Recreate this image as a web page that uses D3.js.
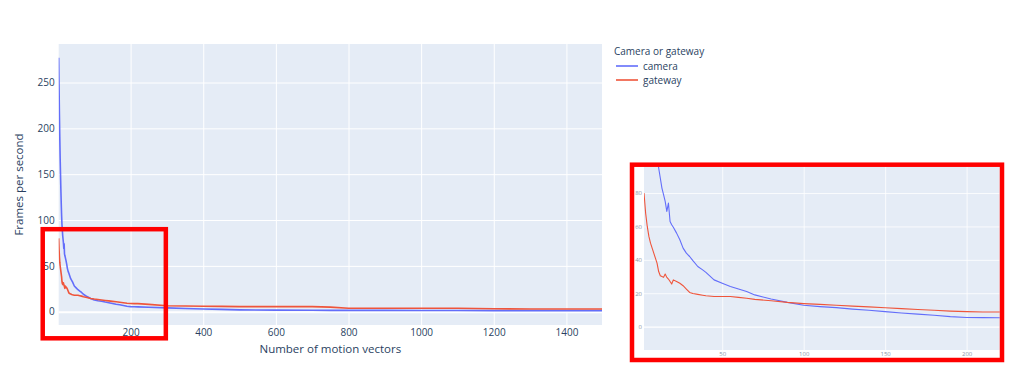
<!DOCTYPE html>
<html>
<head>
<meta charset="utf-8">
<script src="https://cdn.jsdelivr.net/npm/d3@7"></script>
<style>
  body { margin: 0; background: #fff; }
  svg { display: block; font-family: "Open Sans", sans-serif; }
</style>
</head>
<body>
<div id="chart"></div>
<script>
// motion vectors (x) and frames per second for each device
const motionVectors = [2, 3, 4, 5, 6, 7, 8, 9, 10, 11, 12, 13, 14, 15, 16, 17, 18, 19, 20, 22, 24, 26, 28, 30, 32, 35, 38, 40, 45, 50, 55, 60, 65, 70, 80, 90, 100, 110, 120, 130, 140, 150, 160, 170, 180, 190, 200, 210, 220, 250, 300, 350, 400, 450, 500, 600, 700, 750, 800, 900, 1000, 1100, 1200, 1300, 1400, 1500];
const cameraFps = [277, 245, 215, 190, 168, 150, 133, 118, 105, 95, 89, 83, 79, 75, 69, 74, 63, 61, 59.5, 56, 52, 47, 44, 42, 39.5, 36, 34, 32.5, 28, 26, 24, 22.5, 21, 19, 16.5, 14.5, 12.8, 12, 11.4, 10.5, 9.8, 9, 8.2, 7.5, 6.8, 6, 5.5, 5.4, 5.3, 4.8, 4.2, 3.5, 3, 2.5, 2, 1.7, 1.6, 1.5, 1.4, 1.4, 1.3, 1.3, 1.2, 1.2, 1.2, 1.2];
const gatewayFps = [80, 68, 60, 54, 50, 47, 44, 41, 38, 33, 30.5, 30, 29.5, 31.5, 29.5, 28.5, 27, 25.5, 28, 27, 26, 24.5, 22.5, 20.5, 19.8, 19.3, 18.8, 18.5, 18, 18, 18, 17.5, 17, 16.3, 15.5, 14.5, 13.8, 13.3, 12.8, 12.3, 11.8, 11.3, 10.8, 10.3, 9.8, 9.3, 9, 8.8, 8.8, 8, 6.5, 6.2, 6, 5.8, 5.5, 5.5, 5.5, 5, 3.8, 3.7, 3.7, 3.7, 3.2, 3, 3, 3];

const seriesNames = ["camera", "gateway"];
const seriesColors = ["#636efa", "#EF553B"];
const legendTitle = "Camera or gateway";

const mainXTicks = [200, 400, 600, 800, 1000, 1200, 1400];
const mainYTicks = [0, 50, 100, 150, 200, 250];
const insetXTicks = [50, 100, 150, 200];
const insetYTicks = [0, 20, 40, 60, 80];

// highlighted region drawn on the main chart (data units)
const zoomBoxX = [-42, 297];
const zoomBoxY = [-29, 90];

const width = 1024, height = 384;
const fontColor = "#2a3f5f";
const plotBg = "#E5ECF6";
const fmt = d3.format("d");

const svg = d3.select("#chart").append("svg")
    .attr("width", width)
    .attr("height", height);

svg.append("rect").attr("width", width).attr("height", height).attr("fill", "#fff");

const rows = motionVectors.map((x, i) => ({ x, camera: cameraFps[i], gateway: gatewayFps[i] }));

// ---------- main chart ----------
const main = { left: 58.7, right: 602, top: 44, bottom: 325 };
const x = d3.scaleLinear().domain([2, 1498]).range([main.left, main.right]);
const y = d3.scaleLinear().domain([-14.5, 292]).range([main.bottom, main.top]);

svg.append("rect")
    .attr("x", main.left).attr("y", main.top)
    .attr("width", main.right - main.left).attr("height", main.bottom - main.top)
    .attr("fill", plotBg);

// grid
svg.append("g")
    .attr("transform", `translate(0, ${main.bottom})`)
    .call(d3.axisBottom(x).tickValues(mainXTicks).tickSize(-(main.bottom - main.top)).tickFormat(""))
    .call(g => g.select(".domain").remove())
    .call(g => g.selectAll("line").attr("stroke", "#fff").attr("stroke-width", 1));

svg.append("g")
    .attr("transform", `translate(${main.left}, 0)`)
    .call(d3.axisLeft(y).tickValues(mainYTicks).tickSize(-(main.right - main.left)).tickFormat(""))
    .call(g => g.select(".domain").remove())
    .call(g => g.selectAll("line").attr("stroke", "#fff").attr("stroke-width", d => d === 0 ? 2 : 1));

// tick labels
svg.append("g")
    .attr("transform", `translate(0, ${main.bottom})`)
    .call(d3.axisBottom(x).tickValues(mainXTicks).tickFormat(fmt).tickSize(0).tickPadding(4))
    .call(g => g.select(".domain").remove())
    .call(g => g.selectAll("text").attr("fill", fontColor).style("font-size", "10px").style("font-family", "Open Sans"));

svg.append("g")
    .attr("transform", `translate(${main.left}, 0)`)
    .call(d3.axisLeft(y).tickValues(mainYTicks).tickFormat(fmt).tickSize(0).tickPadding(4))
    .call(g => g.select(".domain").remove())
    .call(g => g.selectAll("text").attr("fill", fontColor).style("font-size", "10px").style("font-family", "Open Sans"));

svg.append("clipPath").attr("id", "main-clip")
    .append("rect")
    .attr("x", main.left).attr("y", main.top)
    .attr("width", main.right - main.left).attr("height", main.bottom - main.top);

seriesNames.forEach((name, i) => {
    const line = d3.line().x(d => x(d.x)).y(d => y(d[name]));
    svg.append("path")
        .datum(rows)
        .attr("clip-path", "url(#main-clip)")
        .attr("fill", "none")
        .attr("stroke", seriesColors[i])
        .attr("stroke-width", 1.6)
        .attr("stroke-linejoin", "round")
        .attr("d", line);
});

// axis titles
svg.append("text")
    .attr("x", (main.left + main.right) / 2)
    .attr("y", 353)
    .attr("text-anchor", "middle")
    .attr("fill", fontColor)
    .style("font-size", "11.5px")
    .text("Number of motion vectors");

svg.append("text")
    .attr("transform", `translate(23, ${(main.top + main.bottom) / 2}) rotate(-90)`)
    .attr("text-anchor", "middle")
    .attr("fill", fontColor)
    .style("font-size", "11.5px")
    .text("Frames per second");

// legend
const legend = svg.append("g").attr("transform", "translate(614, 55)");
legend.append("text")
    .attr("fill", fontColor)
    .style("font-size", "10px")
    .text(legendTitle);
seriesNames.forEach((name, i) => {
    const row = legend.append("g").attr("transform", `translate(2, ${11 + i * 14})`);
    row.append("line")
        .attr("x1", 0).attr("x2", 22)
        .attr("stroke", seriesColors[i]).attr("stroke-width", 1.6);
    row.append("text")
        .attr("x", 27).attr("y", 3.5)
        .attr("fill", fontColor)
        .style("font-size", "10px")
        .text(name);
});

// red highlight box on the main chart
svg.append("rect")
    .attr("x", x(zoomBoxX[0])).attr("y", y(zoomBoxY[1]))
    .attr("width", x(zoomBoxX[1]) - x(zoomBoxX[0]))
    .attr("height", y(zoomBoxY[0]) - y(zoomBoxY[1]))
    .attr("fill", "none")
    .attr("stroke", "#ff0000")
    .attr("stroke-width", 4.5);

// ---------- zoomed inset ----------
const inset = { left: 644, right: 999.7, top: 167, bottom: 350 };
const ix = d3.scaleLinear().domain([2, 220.3]).range([inset.left, inset.right]);
const iy = d3.scaleLinear().domain([-14, 95.6]).range([inset.bottom, inset.top]);

svg.append("rect")
    .attr("x", 632).attr("y", 164.7).attr("width", 370).attr("height", 195.3)
    .attr("fill", "#fff");

svg.append("rect")
    .attr("x", inset.left).attr("y", inset.top)
    .attr("width", inset.right - inset.left).attr("height", inset.bottom - inset.top)
    .attr("fill", plotBg);

svg.append("g")
    .attr("transform", `translate(0, ${inset.bottom})`)
    .call(d3.axisBottom(ix).tickValues(insetXTicks).tickSize(-(inset.bottom - inset.top)).tickFormat(""))
    .call(g => g.select(".domain").remove())
    .call(g => g.selectAll("line").attr("stroke", "#fff").attr("stroke-width", 0.8));

svg.append("g")
    .attr("transform", `translate(${inset.left}, 0)`)
    .call(d3.axisLeft(iy).tickValues(insetYTicks).tickSize(-(inset.right - inset.left)).tickFormat(""))
    .call(g => g.select(".domain").remove())
    .call(g => g.selectAll("line").attr("stroke", "#fff").attr("stroke-width", d => d === 0 ? 1.3 : 0.8));

svg.append("g")
    .attr("transform", `translate(0, ${inset.bottom})`)
    .call(d3.axisBottom(ix).tickValues(insetXTicks).tickFormat(fmt).tickSize(0).tickPadding(2))
    .call(g => g.select(".domain").remove())
    .call(g => g.selectAll("text").attr("fill", "#8b95a8").style("font-size", "6px").style("font-family", "Open Sans"));

svg.append("g")
    .attr("transform", `translate(${inset.left}, 0)`)
    .call(d3.axisLeft(iy).tickValues(insetYTicks).tickFormat(fmt).tickSize(0).tickPadding(2))
    .call(g => g.select(".domain").remove())
    .call(g => g.selectAll("text").attr("fill", "#8b95a8").style("font-size", "6px").style("font-family", "Open Sans"));

svg.append("clipPath").attr("id", "inset-clip")
    .append("rect")
    .attr("x", inset.left).attr("y", inset.top)
    .attr("width", inset.right - inset.left).attr("height", inset.bottom - inset.top);

seriesNames.forEach((name, i) => {
    const line = d3.line().x(d => ix(d.x)).y(d => iy(d[name]));
    svg.append("path")
        .datum(rows)
        .attr("clip-path", "url(#inset-clip)")
        .attr("fill", "none")
        .attr("stroke", seriesColors[i])
        .attr("stroke-width", 1.1)
        .attr("stroke-linejoin", "round")
        .attr("d", line);
});

svg.append("rect")
    .attr("x", 632).attr("y", 164.7).attr("width", 370).attr("height", 195.3)
    .attr("fill", "none")
    .attr("stroke", "#ff0000")
    .attr("stroke-width", 4.5);
</script>
</body>
</html>
